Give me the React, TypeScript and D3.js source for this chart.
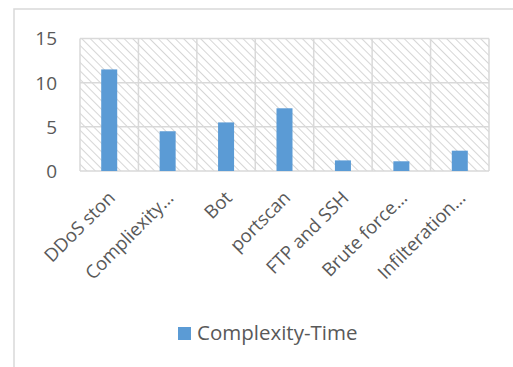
import * as d3 from "d3";

const categories = ["DDoS ston", "Compliexity…", "Bot", "portscan", "FTP and SSH", "Brute force…", "Infilteration…"];
const values = [11.5, 4.5, 5.5, 7.1, 1.2, 1.1, 2.3];
const yTicks = [0, 5, 10, 15];
const seriesName = "Complexity-Time";

const W = 513;
const H = 367;
const plot = { left: 80, right: 489, top: 38.5, bottom: 171 };
const font = "'Open Sans', 'Noto Sans', sans-serif";

export default function App() {
  const x = d3.scaleBand().domain(categories).range([plot.left, plot.right]).paddingInner(0).paddingOuter(0);
  const y = d3.scaleLinear().domain([0, 15]).range([plot.bottom, plot.top]);
  const barW = 16;

  return (
    <svg width={W} height={H} style={{ position: "absolute", left: 0, top: 0 }} fontFamily={font}>
      <defs>
        <pattern id="hatch" width="6" height="6" patternUnits="userSpaceOnUse" patternTransform="rotate(-45)">
          <rect width="6" height="6" fill="#fff" />
          <line x1="0" y1="0" x2="0" y2="6" stroke="#d6d6d6" strokeWidth="2" />
        </pattern>
      </defs>
      <rect width={W} height={H} fill="#fff" />
      <rect x={14} y={9} width={W + 20} height={H + 20} fill="none" stroke="#d9d9d9" strokeWidth={1.5} />

      <rect x={plot.left} y={plot.top} width={plot.right - plot.left} height={plot.bottom - plot.top} fill="url(#hatch)" />

      {yTicks.map((t) => (
        <g key={t}>
          <line x1={plot.left} x2={plot.right} y1={y(t)} y2={y(t)} stroke="#d9d9d9" strokeWidth={1.5} />
          <text x={57} y={y(t)} dy="0.36em" textAnchor="end" fontSize={19} fill="#595959">{t}</text>
        </g>
      ))}
      {categories.map((c) => (
        <line key={"v" + c} x1={x(c)!} x2={x(c)!} y1={plot.top} y2={plot.bottom} stroke="#d9d9d9" strokeWidth={1.5} />
      ))}
      <line x1={plot.right} x2={plot.right} y1={plot.top} y2={plot.bottom} stroke="#d9d9d9" strokeWidth={1.5} />

      {categories.map((c, i) => {
        const cx = x(c)! + x.bandwidth() / 2;
        return (
          <rect key={"b" + c} x={cx - barW / 2} y={y(values[i])} width={barW} height={y(0) - y(values[i])} fill="#5b9bd5" />
        );
      })}

      {categories.map((c) => {
        const cx = x(c)! + x.bandwidth() / 2 + 7;
        const ty = 199;
        return (
          <text key={"l" + c} x={cx} y={ty} textAnchor="end" fontSize={18.5} fill="#595959" transform={`rotate(-45 ${cx} ${ty})`}>
            {c}
          </text>
        );
      })}

      <rect x={178} y={327} width={13} height={13} fill="#5b9bd5" />
      <text x={197} y={340} fontSize={20.5} fill="#595959">{seriesName}</text>
    </svg>
  );
}
